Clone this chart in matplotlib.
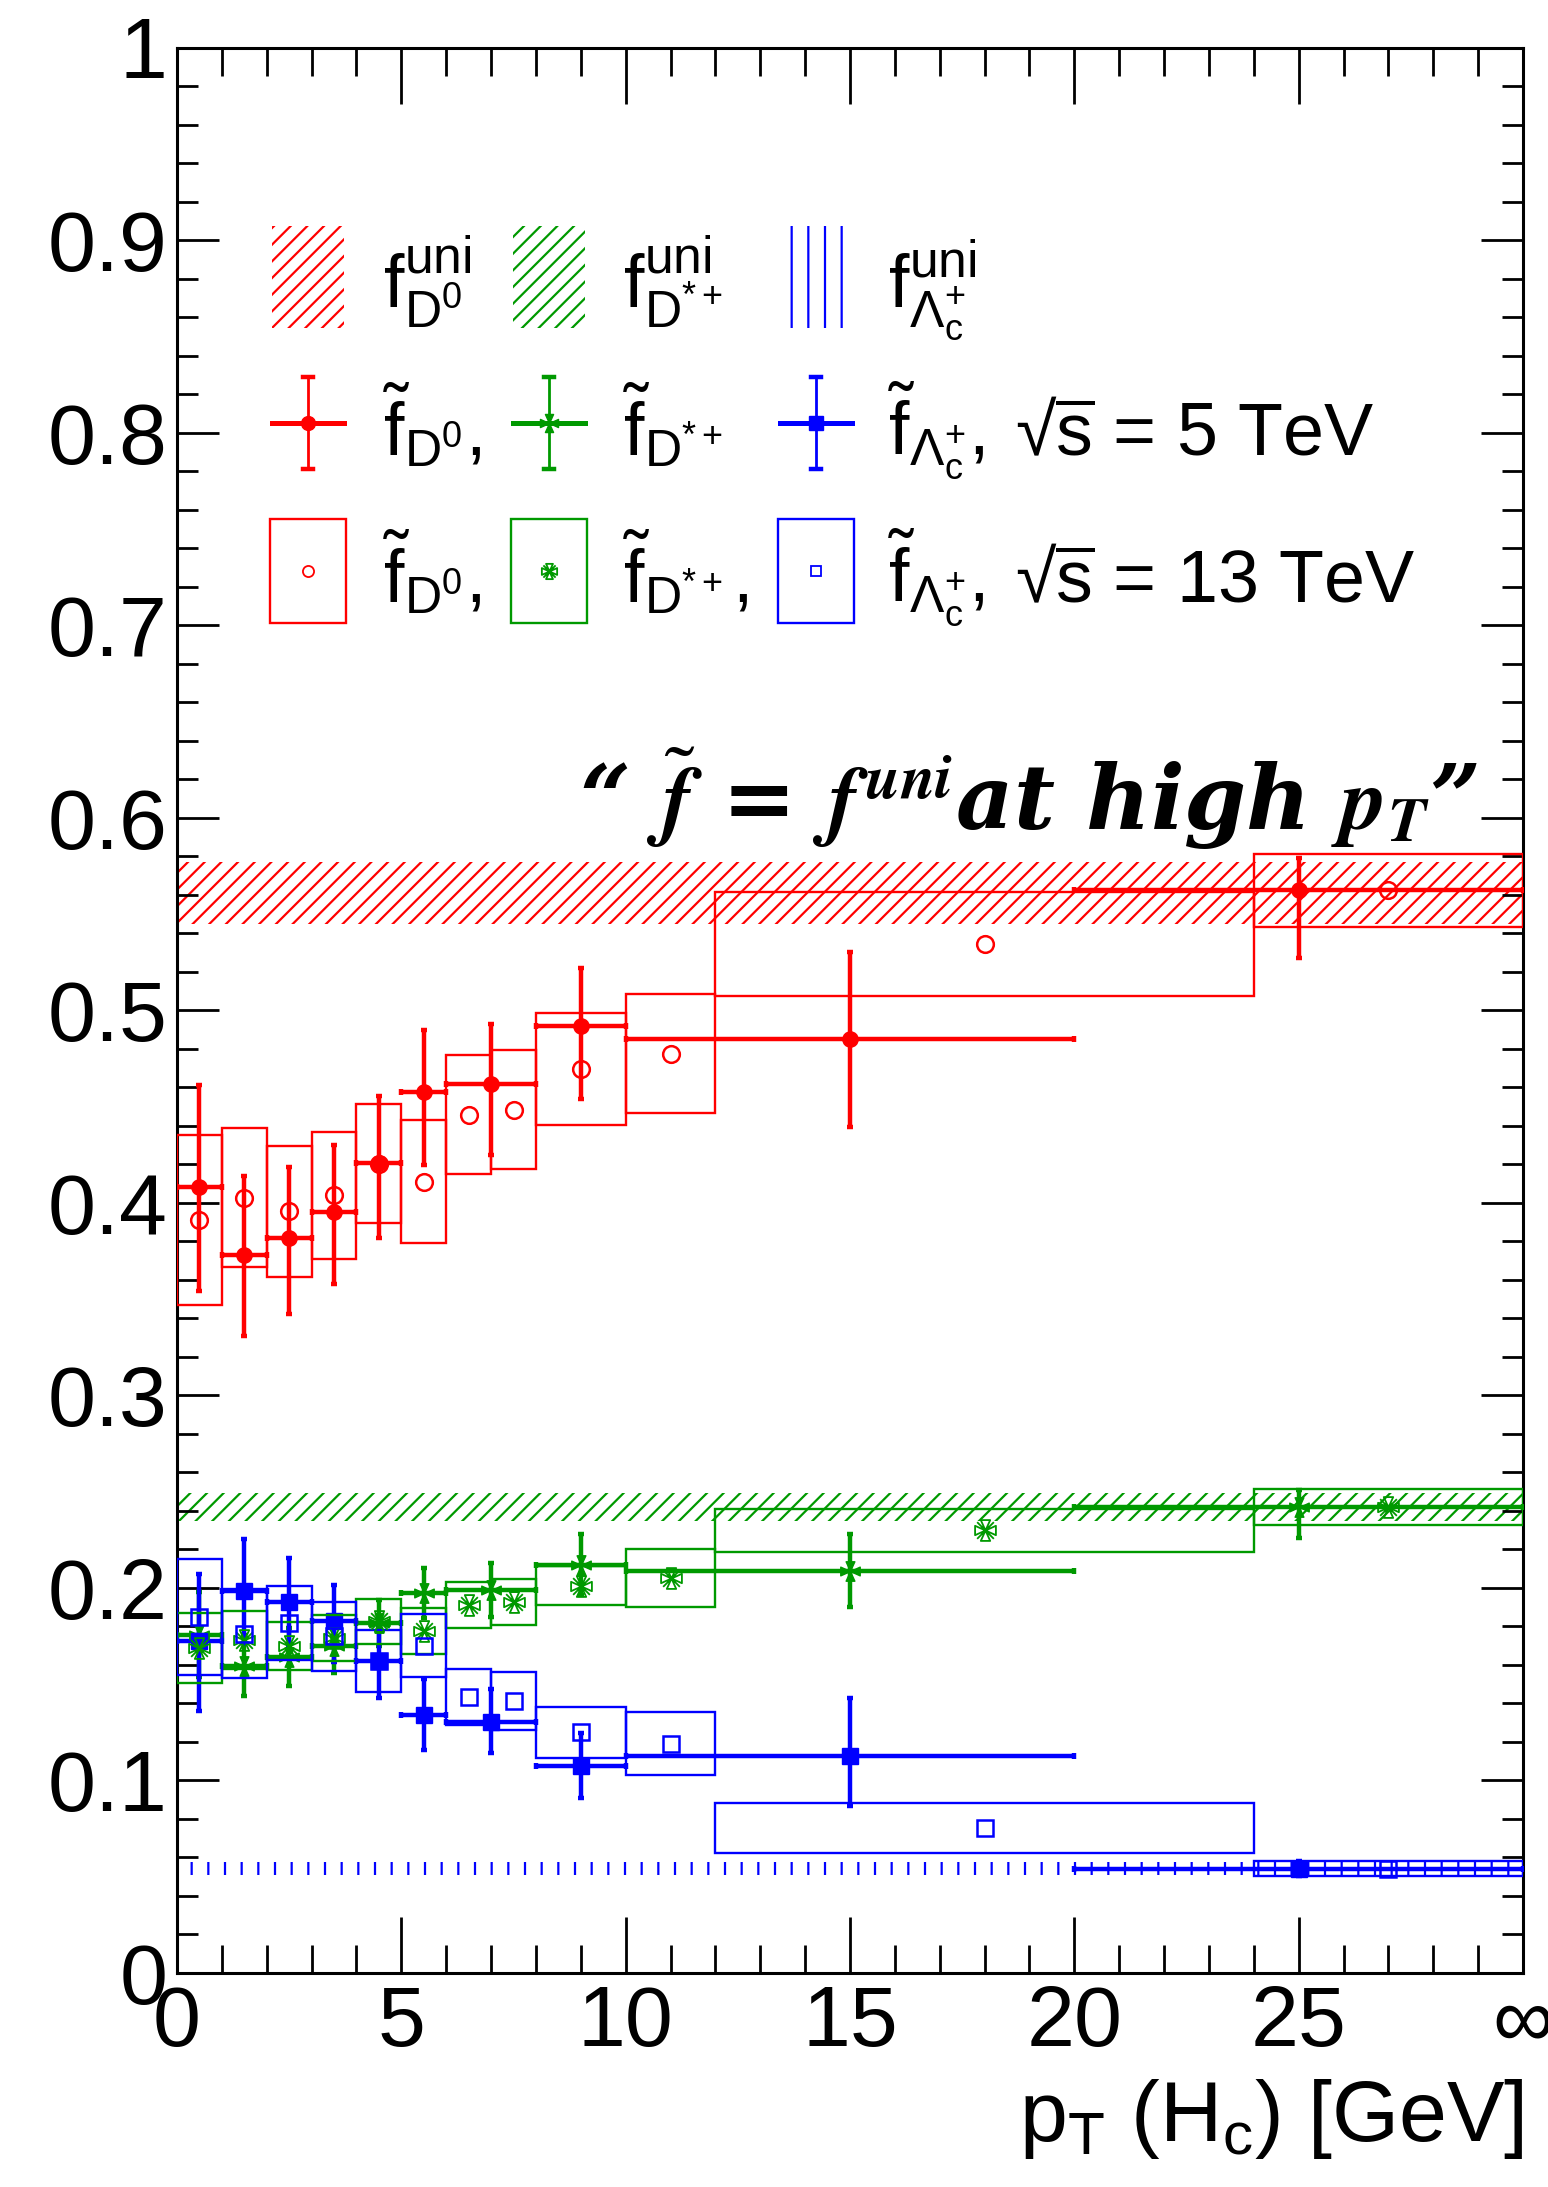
import numpy as np
import matplotlib
matplotlib.use('Agg')
import matplotlib.pyplot as plt
from matplotlib.patches import Rectangle
from matplotlib.path import Path

plt.rcParams['font.family'] = ['Liberation Sans', 'DejaVu Sans']
plt.rcParams['mathtext.fontset'] = 'custom'
plt.rcParams['mathtext.rm'] = 'Liberation Sans'
plt.rcParams['mathtext.it'] = 'Liberation Sans:italic'
plt.rcParams['mathtext.bf'] = 'Liberation Sans:bold'
plt.rcParams['hatch.linewidth'] = 1.6

# pT bin edges in GeV, the last edge (30) stands for infinity on the axis
edges_5 = [0, 1, 2, 3, 4, 5, 6, 8, 10, 20, 30]
edges_13 = [0, 1, 2, 3, 4, 5, 6, 7, 8, 10, 12, 24, 30]

# sqrt(s) = 5 TeV fractions, with lower / upper errors
d0_5 = [0.408, 0.373, 0.3815, 0.395, 0.4207, 0.4576, 0.4619, 0.492, 0.4853, 0.5623]
d0_5_lo = [0.054, 0.042, 0.039, 0.037, 0.039, 0.038, 0.037, 0.038, 0.046, 0.035]
d0_5_hi = [0.053, 0.041, 0.037, 0.035, 0.035, 0.032, 0.031, 0.030, 0.045, 0.017]

dst_5 = [0.1757, 0.1596, 0.164, 0.170, 0.1818, 0.1974, 0.1991, 0.2121, 0.209, 0.242]
dst_5_lo = [0.022, 0.016, 0.015, 0.014, 0.012, 0.013, 0.014, 0.016, 0.019, 0.016]
dst_5_hi = [0.022, 0.016, 0.015, 0.014, 0.012, 0.013, 0.014, 0.016, 0.019, 0.009]

lc_5 = [0.1723, 0.1986, 0.1925, 0.1827, 0.1619, 0.1338, 0.1304, 0.1077, 0.1126, 0.0542]
lc_5_lo = [0.036, 0.027, 0.023, 0.021, 0.019, 0.018, 0.016, 0.017, 0.026, 0.004]
lc_5_hi = [0.035, 0.027, 0.023, 0.019, 0.019, 0.019, 0.017, 0.017, 0.030, 0.004]

# sqrt(s) = 13 TeV fractions with systematic box half-heights
d0_13 = [0.391, 0.4026, 0.3957, 0.4038, 0.4203, 0.4109, 0.4458, 0.4484, 0.4696, 0.4775, 0.5345, 0.5623]
d0_13_sys = [0.044, 0.036, 0.034, 0.033, 0.031, 0.032, 0.031, 0.031, 0.029, 0.031, 0.027, 0.019]

dst_13 = [0.1688, 0.1731, 0.170, 0.174, 0.1827, 0.1775, 0.1913, 0.1925, 0.2012, 0.2052, 0.2299, 0.242]
dst_13_sys = [0.018, 0.015, 0.0125, 0.012, 0.0116, 0.012, 0.012, 0.012, 0.0103, 0.015, 0.0113, 0.0094]

lc_13 = [0.1849, 0.1763, 0.1818, 0.1749, 0.162, 0.170, 0.1432, 0.1411, 0.125, 0.119, 0.0754, 0.0542]
lc_13_sys = [0.030, 0.023, 0.019, 0.018, 0.016, 0.0165, 0.0145, 0.015, 0.0134, 0.0164, 0.013, 0.004]

# universal fragmentation fractions (value, half-width of band)
funi_d0 = (0.561, 0.016)
funi_dst = (0.242, 0.0074)
funi_lc = (0.0542, 0.0035)

RED = '#ff0000'
GREEN = '#009900'
BLUE = '#0000ff'


def four_triangles(open_marker):
    verts, codes = [], []
    w = 0.45
    for tri in [[(0, 0), (-w, 1), (w, 1)], [(0, 0), (-w, -1), (w, -1)],
                [(0, 0), (-1, -w), (-1, w)], [(0, 0), (1, -w), (1, w)]]:
        verts += tri + [(0, 0)]
        codes += [Path.MOVETO, Path.LINETO, Path.LINETO, Path.CLOSEPOLY]
    if open_marker:
        for a, b in [((-0.8, -0.8), (0.8, 0.8)), ((-0.8, 0.8), (0.8, -0.8))]:
            verts += [a, b]
            codes += [Path.MOVETO, Path.LINETO]
    return Path(verts, codes)


MK_GREEN_5 = four_triangles(False)
MK_GREEN_13 = four_triangles(True)

fig = plt.figure(figsize=(15.48, 21.87), dpi=100)
ax = fig.add_axes([177 / 1548, 214 / 2187, 1346 / 1548, 1925.5 / 2187])

# universal fractions as hatched bands across the full pT range
ax.add_patch(Rectangle((0, funi_d0[0] - funi_d0[1]), 30, 2 * funi_d0[1],
                       facecolor='none', edgecolor=RED, hatch='//', lw=0))
ax.add_patch(Rectangle((0, funi_dst[0] - funi_dst[1]), 30, 2 * funi_dst[1],
                       facecolor='none', edgecolor=GREEN, hatch='//', lw=0))
ax.add_patch(Rectangle((0, funi_lc[0] - funi_lc[1]), 30, 2 * funi_lc[1],
                       facecolor='none', edgecolor=BLUE, hatch='|', lw=0))

# 5 TeV points: horizontal bar = bin width
e5 = np.array(edges_5, dtype=float)
c5 = 0.5 * (e5[1:] + e5[:-1])
hw5 = 0.5 * (e5[1:] - e5[:-1])
for vals, lo, hi, col, mk, ms in [(d0_5, d0_5_lo, d0_5_hi, RED, 'o', 11),
                                  (dst_5, dst_5_lo, dst_5_hi, GREEN, MK_GREEN_5, 14),
                                  (lc_5, lc_5_lo, lc_5_hi, BLUE, 's', 11)]:
    ax.errorbar(c5, vals, xerr=hw5, yerr=[lo, hi], fmt='none', ecolor=col,
                elinewidth=3.2, capsize=2.5, capthick=3.2, zorder=3)
    ax.plot(c5, vals, ls='none', marker=mk, ms=ms, color=col, mec=col, zorder=4)

# 13 TeV points: open markers inside systematic boxes
e13 = np.array(edges_13, dtype=float)
c13 = 0.5 * (e13[1:] + e13[:-1])
for vals, sys, col, mk, ms, mew in [(d0_13, d0_13_sys, RED, 'o', 12, 1.8),
                                    (dst_13, dst_13_sys, GREEN, MK_GREEN_13, 15, 1.3),
                                    (lc_13, lc_13_sys, BLUE, 's', 12, 1.8)]:
    for x0, x1, v, s in zip(e13[:-1], e13[1:], vals, sys):
        ax.add_patch(Rectangle((x0, v - s), x1 - x0, 2 * s, facecolor='none',
                               edgecolor=col, lw=1.7, zorder=5))
    ax.plot(c13, vals, ls='none', marker=mk, ms=ms, mfc='none', mec=col, mew=mew, zorder=6)

ax.set_xlim(0, 30)
ax.set_ylim(0, 1)
ax.set_xticks([0, 5, 10, 15, 20, 25, 30])
ax.set_xticklabels(['0', '5', '10', '15', '20', '25', '\u221e'])
ax.set_xticks(np.arange(0, 31, 1), minor=True)
yt = np.round(np.arange(0, 1.01, 0.1), 1)
ax.set_yticks(yt)
ax.set_yticklabels(['0'] + ['%.1f' % v for v in yt[1:-1]] + ['1'])
ax.set_yticks(np.arange(0, 1.001, 0.02), minor=True)
ax.tick_params(which='both', direction='in', top=True, right=True, width=2.0, labelsize=62)
ax.xaxis.set_tick_params(which='major', length=40, pad=8)
ax.xaxis.set_tick_params(which='minor', length=20)
ax.yaxis.set_tick_params(which='major', length=30, pad=7)
ax.yaxis.set_tick_params(which='minor', length=15)
for sp in ax.spines.values():
    sp.set_linewidth(2.2)

fig.text(1523 / 1548, 46 / 2187, r'p$_{\mathrm{T}}$ (H$_{\mathrm{c}}$) [GeV]',
         ha='right', va='baseline', fontsize=62)

# legend, placed in pixel positions of the frame
def fr(px, py):
    return (px - 177) / 1346, (1973 - py) / 1925.5


tr = ax.transAxes
cols = [(308, RED), (549, GREEN), (816, BLUE)]
box_hw = 36
for (cx, col), hatch in zip(cols, ['//', '//', '|']):
    x0, y0 = fr(cx - box_hw, 328)
    x1, y1 = fr(cx + box_hw, 226)
    ax.add_patch(Rectangle((x0, y0), x1 - x0, y1 - y0, transform=tr, facecolor='none',
                           edgecolor=col, hatch=hatch, lw=0, clip_on=False))

for (cx, col), mk, ms in zip(cols, ['o', MK_GREEN_5, 's'], [10, 13, 10]):
    xa, ya = fr(cx, 423)
    xl, _ = fr(cx - box_hw, 423)
    xr, _ = fr(cx + box_hw, 423)
    _, yb = fr(cx, 469)
    _, yt_ = fr(cx, 377)
    ax.plot([xl, xr], [ya, ya], color=col, lw=3.6, transform=tr, clip_on=False)
    ax.plot([xa, xa], [yb, yt_], color=col, lw=2.0, transform=tr, clip_on=False)
    dx = 5 / 1346
    for yy in (yb, yt_):
        ax.plot([xa - dx, xa + dx], [yy, yy], color=col, lw=3.2, transform=tr, clip_on=False)
    ax.plot([xa], [ya], marker=mk, ms=ms, color=col, transform=tr, clip_on=False)

for (cx, col), mk, ms in zip(cols, ['o', MK_GREEN_13, 's'], [8, 11, 7]):
    x0, y0 = fr(cx - 38, 623)
    x1, y1 = fr(cx + 38, 519)
    ax.add_patch(Rectangle((x0, y0), x1 - x0, y1 - y0, transform=tr, facecolor='none',
                           edgecolor=col, lw=1.7, clip_on=False))
    xa, ya = fr(cx, 571)
    ax.plot([xa], [ya], marker=mk, ms=ms, mfc='none', mec=col, mew=1.3,
            transform=tr, clip_on=False)

labels_uni = [r'$\mathrm{f}^{\mathrm{uni}}_{\mathrm{D}^{0}}$',
              r'$\mathrm{f}^{\mathrm{uni}}_{\mathrm{D}^{*+}}$',
              r'$\mathrm{f}^{\mathrm{uni}}_{\Lambda_{\mathrm{c}}^{+}}$']
labels_5 = [r'$\tilde{\mathrm{f}}_{\mathrm{D}^{0}},$',
            r'$\tilde{\mathrm{f}}_{\mathrm{D}^{*+}}$',
            r'$\tilde{\mathrm{f}}_{\Lambda_{\mathrm{c}}^{+}},$']
labels_13 = [r'$\tilde{\mathrm{f}}_{\mathrm{D}^{0}},$',
             r'$\tilde{\mathrm{f}}_{\mathrm{D}^{*+}},$',
             r'$\tilde{\mathrm{f}}_{\Lambda_{\mathrm{c}}^{+}},$']
label_x = [383, 623, 888]
for row, base in [(labels_uni, 308), (labels_5, 455), (labels_13, 602)]:
    for lx, lab in zip(label_x, row):
        ax.text(*fr(lx, base), lab, transform=tr, fontsize=53, ha='left', va='baseline')
ax.text(*fr(1015, 455), '\u221a$\\overline{\\mathrm{s}}$ = 5 TeV', transform=tr,
        fontsize=53, ha='left', va='baseline')
ax.text(*fr(1015, 602), '\u221a$\\overline{\\mathrm{s}}$ = 13 TeV', transform=tr,
        fontsize=53, ha='left', va='baseline')

# hand-written style remark
ax.text(*fr(579, 830),
        r'“ $\tilde{\mathbfit{f}}$ = $\mathbfit{f}^{\,\mathbfit{uni}}$at high $\mathbfit{p}_{\mathbfit{T}}$”',
        transform=tr, fontsize=64, ha='left', va='baseline', family='DejaVu Serif',
        fontweight='bold', style='italic', math_fontfamily='stix')

fig.savefig('out.png', dpi=100)
